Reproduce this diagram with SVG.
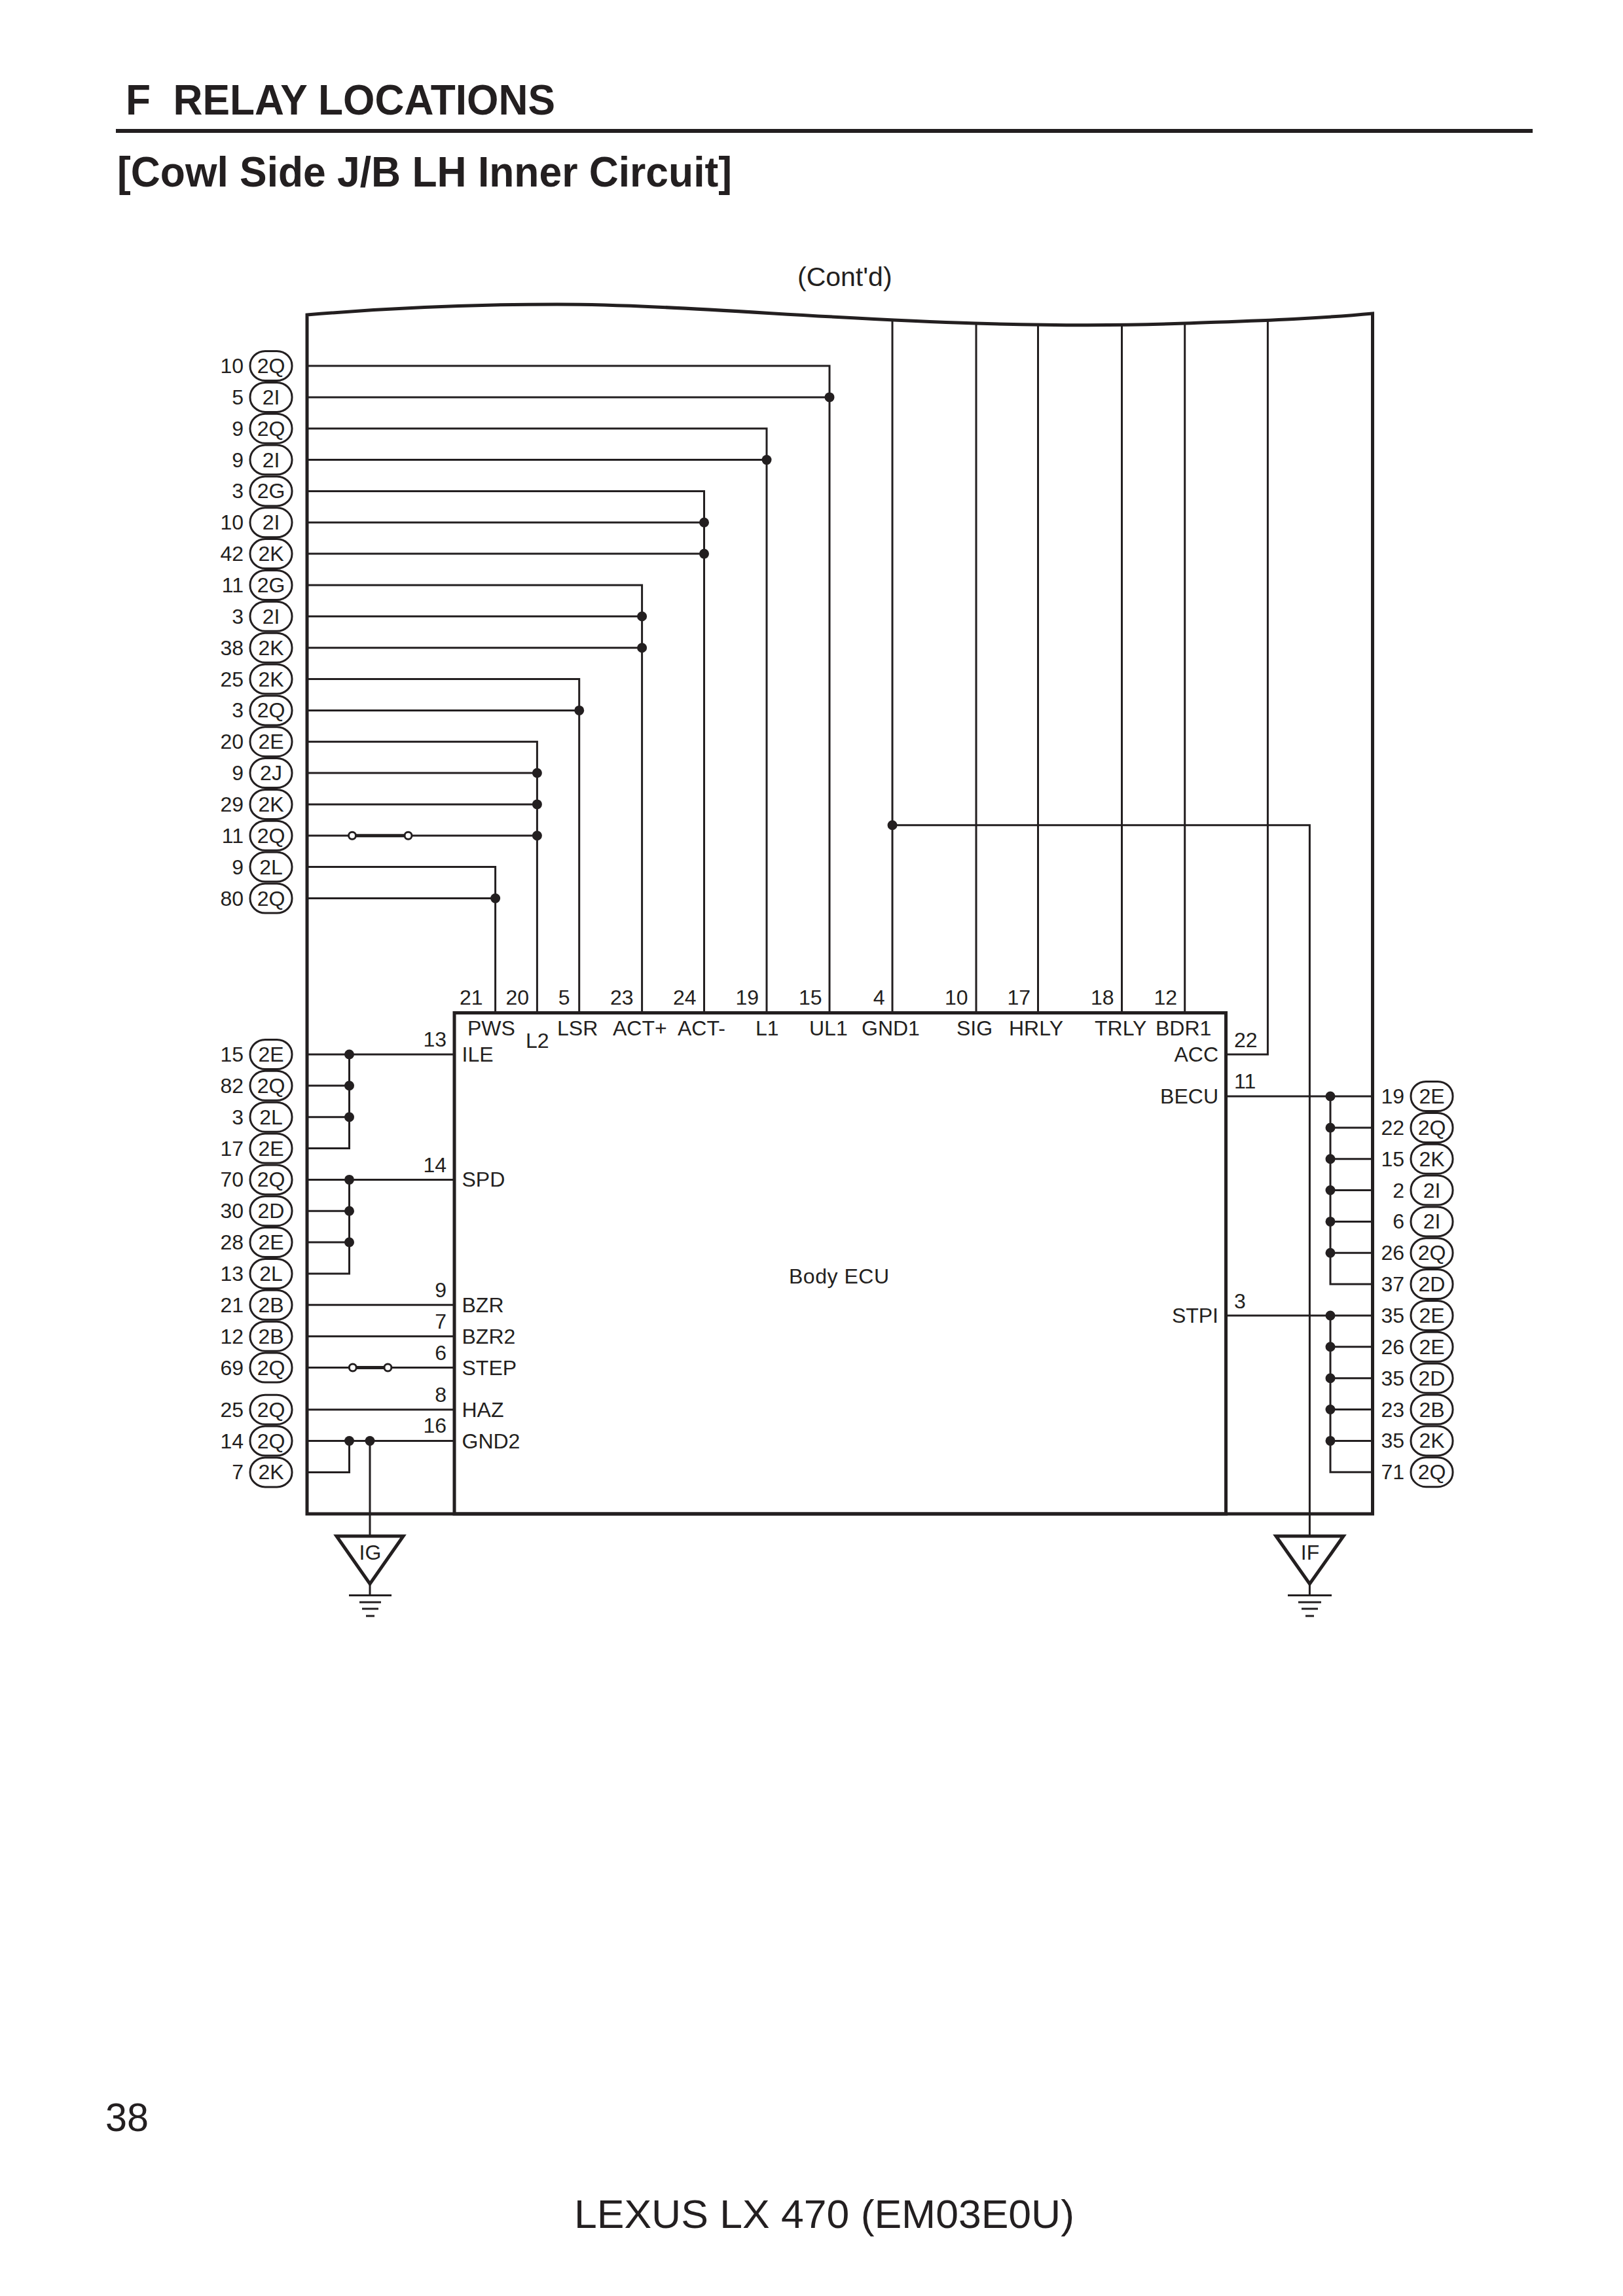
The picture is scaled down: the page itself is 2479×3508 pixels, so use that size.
<svg xmlns="http://www.w3.org/2000/svg" width="2479" height="3508" viewBox="0 0 2479 3508">
<style>
text{font-family:"Liberation Sans",Arial,sans-serif;fill:#231f20;font-size:32px}
.r{text-anchor:end}
.c{text-anchor:middle}
.w{fill:none;stroke:#231f20;stroke-width:3}
.f{fill:none;stroke:#231f20;stroke-width:5;stroke-linecap:square}
.pad{fill:#fff;stroke:#231f20;stroke-width:3}
.j{fill:#231f20}
.o{fill:#fff;stroke:#231f20;stroke-width:3}
.sw{fill:none;stroke:#231f20;stroke-width:5}
.h{font-weight:700;font-size:64px;white-space:pre}
</style>
<defs>
<rect id="pad" class="pad" x="-32" y="-22.5" width="64" height="45" rx="23" ry="22"/>
<circle id="j" class="j" r="7.5"/>
<circle id="o" class="o" r="5.5"/>
</defs>
<rect width="2479" height="3508" fill="#fff"/>
<g id="heading">
<text class="h" x="192" y="175" textLength="656" lengthAdjust="spacingAndGlyphs">F  RELAY LOCATIONS</text>
<rect x="177" y="197" width="2164" height="6" fill="#231f20"/>
<text class="h" x="179" y="285" textLength="939" lengthAdjust="spacingAndGlyphs">[Cowl Side J/B LH Inner Circuit]</text>
<text x="1218" y="437" style="font-size:41px">(Cont'd)</text>
</g>
<g id="connectors">
<path class="w" d="M469 559H1267V1547.5M469 606.9H1267"/>
<path class="w" d="M469 654.7H1171V1547.5M469 702.6H1171"/>
<path class="w" d="M469 750.4H1075.5V1547.5M469 798.3H1075.5M469 846.1H1075.5"/>
<path class="w" d="M469 894H980.6V1547.5M469 941.8H980.6M469 989.7H980.6"/>
<path class="w" d="M469 1037.5H884.7V1547.5M469 1085.4H884.7"/>
<path class="w" d="M469 1133.2H820.4V1547.5M469 1181H820.4M469 1228.9H820.4M469 1276.8H820.4"/>
<path class="w" d="M469 1324.6H756.6V1547.5M469 1372.5H756.6"/>
<path class="w" d="M1363 489V1547.5M1363 1260.7H2000.4V2346"/>
<path class="w" d="M1491 494V1547.5M1585.5 496V1547.5M1713.5 496V1547.5M1809.7 494V1547.5"/>
<path class="w" d="M1936.4 488V1611H1872.5"/>
<path class="w" d="M469 1611H694M533.5 1611V1754.5H469M469 1658.8H533.5M469 1706.7H533.5"/>
<path class="w" d="M469 1802.4H694M533.5 1802.4V1946H469M469 1850.2H533.5M469 1898H533.5"/>
<path class="w" d="M469 1993.8H694M469 2041.7H694M469 2089.5H694M469 2153.7H694"/>
<path class="w" d="M469 2201.5H694M533.5 2201.5V2249.4H469M565 2201.5V2346"/>
<path class="w" d="M1872.5 1675H2096.5M2032 1675V1962H2096.5M2032 1723H2096.5M2032 1770.7H2096.5M2032 1818.5H2096.5M2032 1866.4H2096.5M2032 1914.2H2096.5"/>
<path class="w" d="M1872.5 2010H2096.5M2032 2010V2249.2H2096.5M2032 2057.8H2096.5M2032 2105.7H2096.5M2032 2153.5H2096.5M2032 2201.4H2096.5"/>
<path class="sw" d="M538 1276.8H623.5M538.8 2089.5H592.4"/>
<use href="#o" x="538" y="1276.8"/><use href="#o" x="623.5" y="1276.8"/>
<use href="#o" x="538.8" y="2089.5"/><use href="#o" x="592.4" y="2089.5"/>
<use href="#j" x="1267" y="606.9"/><use href="#j" x="1171" y="702.6"/>
<use href="#j" x="1075.5" y="798.3"/><use href="#j" x="1075.5" y="846.1"/>
<use href="#j" x="980.6" y="941.8"/><use href="#j" x="980.6" y="989.7"/>
<use href="#j" x="884.7" y="1085.4"/>
<use href="#j" x="820.4" y="1181"/><use href="#j" x="820.4" y="1228.9"/><use href="#j" x="820.4" y="1276.8"/>
<use href="#j" x="756.6" y="1372.5"/>
<use href="#j" x="1363" y="1260.7"/>
<use href="#j" x="533.5" y="1611"/><use href="#j" x="533.5" y="1658.8"/><use href="#j" x="533.5" y="1706.7"/>
<use href="#j" x="533.5" y="1802.4"/><use href="#j" x="533.5" y="1850.2"/><use href="#j" x="533.5" y="1898"/>
<use href="#j" x="533.5" y="2201.5"/><use href="#j" x="565" y="2201.5"/>
<use href="#j" x="2032" y="1675"/><use href="#j" x="2032" y="1723"/><use href="#j" x="2032" y="1770.7"/><use href="#j" x="2032" y="1818.5"/><use href="#j" x="2032" y="1866.4"/><use href="#j" x="2032" y="1914.2"/>
<use href="#j" x="2032" y="2010"/><use href="#j" x="2032" y="2057.8"/><use href="#j" x="2032" y="2105.7"/><use href="#j" x="2032" y="2153.5"/><use href="#j" x="2032" y="2201.4"/>
</g>
<g id="junction-block">
<path class="f" d="M469 2313V481C600 470 720 465 851 465C1030 465 1250 487 1490 494C1590 497 1710 498 1810 494C1900 490.5 2000 488 2096.5 479V2313Z"/>
</g>
<g id="body-ecu">
<rect class="f" x="694" y="1547.5" width="1178.5" height="765.5"/>
<text x="1205" y="1960.5" textLength="153" lengthAdjust="spacing">Body ECU</text>
<text class="r" x="737.5" y="1535">21</text><text class="r" x="808" y="1535">20</text><text class="r" x="870.5" y="1535">5</text><text class="r" x="967.5" y="1535">23</text><text class="r" x="1063.5" y="1535">24</text><text class="r" x="1159" y="1535">19</text><text class="r" x="1255.5" y="1535">15</text><text class="r" x="1351.5" y="1535">4</text><text class="r" x="1478.5" y="1535">10</text><text class="r" x="1574" y="1535">17</text><text class="r" x="1701.5" y="1535">18</text><text class="r" x="1798" y="1535">12</text>
<text x="714" y="1582">PWS</text><text x="803" y="1601">L2</text><text x="851" y="1582">LSR</text><text x="936" y="1582">ACT+</text><text x="1035" y="1582">ACT-</text><text x="1154" y="1582">L1</text><text x="1236" y="1582">UL1</text><text x="1316" y="1582">GND1</text><text x="1461" y="1582">SIG</text><text x="1541" y="1582">HRLY</text><text x="1672" y="1582">TRLY</text><text x="1765" y="1582">BDR1</text>
<text x="705.5" y="1622">ILE</text><text x="705.5" y="1813">SPD</text><text x="705.5" y="2005">BZR</text><text x="705.5" y="2053">BZR2</text><text x="705.5" y="2101">STEP</text><text x="705.5" y="2165">HAZ</text><text x="705.5" y="2213">GND2</text>
<text class="r" x="682" y="1599">13</text><text class="r" x="682" y="1791">14</text><text class="r" x="682" y="1982">9</text><text class="r" x="682" y="2030">7</text><text class="r" x="682" y="2078">6</text><text class="r" x="682" y="2142">8</text><text class="r" x="682" y="2189">16</text>
<text class="r" x="1861" y="1622">ACC</text><text class="r" x="1861" y="1686">BECU</text><text class="r" x="1861" y="2021">STPI</text>
<text x="1885" y="1600">22</text><text x="1885" y="1663">11</text><text x="1885" y="1999">3</text>
</g>
<g id="ground-IG">
<path class="f" style="stroke-linejoin:miter" d="M514 2347H616L565 2420Z"/>
<path class="w" d="M565 2420V2437M533 2437.5H598M549 2448H582M553 2458H578M559 2469H572"/>
<text class="c" x="565.5" y="2383">IG</text>
</g>
<g id="ground-IF">
<path class="f" style="stroke-linejoin:miter" d="M1949 2347H2052L2000.4 2420Z"/>
<path class="w" d="M2000.4 2420V2437M1967 2437.5H2034M1983 2448H2018M1988 2458H2013M1994 2469H2007"/>
<text class="c" x="2001" y="2383">IF</text>
</g>
<g id="terminals-top-left">
<g id="tl01"><text class="r" x="372" y="570">10</text><use href="#pad" x="414" y="559"/><text class="c" x="414" y="570">2Q</text></g>
<g id="tl02"><text class="r" x="372" y="618">5</text><use href="#pad" x="414" y="606.9"/><text class="c" x="414" y="618">2I</text></g>
<g id="tl03"><text class="r" x="372" y="666">9</text><use href="#pad" x="414" y="654.7"/><text class="c" x="414" y="666">2Q</text></g>
<g id="tl04"><text class="r" x="372" y="714">9</text><use href="#pad" x="414" y="702.6"/><text class="c" x="414" y="714">2I</text></g>
<g id="tl05"><text class="r" x="372" y="761">3</text><use href="#pad" x="414" y="750.4"/><text class="c" x="414" y="761">2G</text></g>
<g id="tl06"><text class="r" x="372" y="809">10</text><use href="#pad" x="414" y="798.3"/><text class="c" x="414" y="809">2I</text></g>
<g id="tl07"><text class="r" x="372" y="857">42</text><use href="#pad" x="414" y="846.1"/><text class="c" x="414" y="857">2K</text></g>
<g id="tl08"><text class="r" x="372" y="905">11</text><use href="#pad" x="414" y="894"/><text class="c" x="414" y="905">2G</text></g>
<g id="tl09"><text class="r" x="372" y="953">3</text><use href="#pad" x="414" y="941.8"/><text class="c" x="414" y="953">2I</text></g>
<g id="tl10"><text class="r" x="372" y="1001">38</text><use href="#pad" x="414" y="989.7"/><text class="c" x="414" y="1001">2K</text></g>
<g id="tl11"><text class="r" x="372" y="1049">25</text><use href="#pad" x="414" y="1037.5"/><text class="c" x="414" y="1049">2K</text></g>
<g id="tl12"><text class="r" x="372" y="1096">3</text><use href="#pad" x="414" y="1085.4"/><text class="c" x="414" y="1096">2Q</text></g>
<g id="tl13"><text class="r" x="372" y="1144">20</text><use href="#pad" x="414" y="1133.2"/><text class="c" x="414" y="1144">2E</text></g>
<g id="tl14"><text class="r" x="372" y="1192">9</text><use href="#pad" x="414" y="1181"/><text class="c" x="414" y="1192">2J</text></g>
<g id="tl15"><text class="r" x="372" y="1240">29</text><use href="#pad" x="414" y="1228.9"/><text class="c" x="414" y="1240">2K</text></g>
<g id="tl16"><text class="r" x="372" y="1288">11</text><use href="#pad" x="414" y="1276.8"/><text class="c" x="414" y="1288">2Q</text></g>
<g id="tl17"><text class="r" x="372" y="1336">9</text><use href="#pad" x="414" y="1324.6"/><text class="c" x="414" y="1336">2L</text></g>
<g id="tl18"><text class="r" x="372" y="1384">80</text><use href="#pad" x="414" y="1372.5"/><text class="c" x="414" y="1384">2Q</text></g>
</g>
<g id="terminals-bottom-left">
<g id="bl01"><text class="r" x="372" y="1622">15</text><use href="#pad" x="414" y="1611"/><text class="c" x="414" y="1622">2E</text></g>
<g id="bl02"><text class="r" x="372" y="1670">82</text><use href="#pad" x="414" y="1658.8"/><text class="c" x="414" y="1670">2Q</text></g>
<g id="bl03"><text class="r" x="372" y="1718">3</text><use href="#pad" x="414" y="1706.7"/><text class="c" x="414" y="1718">2L</text></g>
<g id="bl04"><text class="r" x="372" y="1766">17</text><use href="#pad" x="414" y="1754.5"/><text class="c" x="414" y="1766">2E</text></g>
<g id="bl05"><text class="r" x="372" y="1813">70</text><use href="#pad" x="414" y="1802.4"/><text class="c" x="414" y="1813">2Q</text></g>
<g id="bl06"><text class="r" x="372" y="1861">30</text><use href="#pad" x="414" y="1850.2"/><text class="c" x="414" y="1861">2D</text></g>
<g id="bl07"><text class="r" x="372" y="1909">28</text><use href="#pad" x="414" y="1898"/><text class="c" x="414" y="1909">2E</text></g>
<g id="bl08"><text class="r" x="372" y="1957">13</text><use href="#pad" x="414" y="1946"/><text class="c" x="414" y="1957">2L</text></g>
<g id="bl09"><text class="r" x="372" y="2005">21</text><use href="#pad" x="414" y="1993.8"/><text class="c" x="414" y="2005">2B</text></g>
<g id="bl10"><text class="r" x="372" y="2053">12</text><use href="#pad" x="414" y="2041.7"/><text class="c" x="414" y="2053">2B</text></g>
<g id="bl11"><text class="r" x="372" y="2101">69</text><use href="#pad" x="414" y="2089.5"/><text class="c" x="414" y="2101">2Q</text></g>
<g id="bl12"><text class="r" x="372" y="2165">25</text><use href="#pad" x="414" y="2153.7"/><text class="c" x="414" y="2165">2Q</text></g>
<g id="bl13"><text class="r" x="372" y="2213">14</text><use href="#pad" x="414" y="2201.5"/><text class="c" x="414" y="2213">2Q</text></g>
<g id="bl14"><text class="r" x="372" y="2260">7</text><use href="#pad" x="414" y="2249.4"/><text class="c" x="414" y="2260">2K</text></g>
</g>
<g id="terminals-right">
<g id="r01"><text class="r" x="2145" y="1686">19</text><use href="#pad" x="2187" y="1675"/><text class="c" x="2187" y="1686">2E</text></g>
<g id="r02"><text class="r" x="2145" y="1734">22</text><use href="#pad" x="2187" y="1723"/><text class="c" x="2187" y="1734">2Q</text></g>
<g id="r03"><text class="r" x="2145" y="1782">15</text><use href="#pad" x="2187" y="1770.7"/><text class="c" x="2187" y="1782">2K</text></g>
<g id="r04"><text class="r" x="2145" y="1830">2</text><use href="#pad" x="2187" y="1818.5"/><text class="c" x="2187" y="1830">2I</text></g>
<g id="r05"><text class="r" x="2145" y="1877">6</text><use href="#pad" x="2187" y="1866.4"/><text class="c" x="2187" y="1877">2I</text></g>
<g id="r06"><text class="r" x="2145" y="1925">26</text><use href="#pad" x="2187" y="1914.2"/><text class="c" x="2187" y="1925">2Q</text></g>
<g id="r07"><text class="r" x="2145" y="1973">37</text><use href="#pad" x="2187" y="1962"/><text class="c" x="2187" y="1973">2D</text></g>
<g id="r08"><text class="r" x="2145" y="2021">35</text><use href="#pad" x="2187" y="2010"/><text class="c" x="2187" y="2021">2E</text></g>
<g id="r09"><text class="r" x="2145" y="2069">26</text><use href="#pad" x="2187" y="2057.8"/><text class="c" x="2187" y="2069">2E</text></g>
<g id="r10"><text class="r" x="2145" y="2117">35</text><use href="#pad" x="2187" y="2105.7"/><text class="c" x="2187" y="2117">2D</text></g>
<g id="r11"><text class="r" x="2145" y="2165">23</text><use href="#pad" x="2187" y="2153.5"/><text class="c" x="2187" y="2165">2B</text></g>
<g id="r12"><text class="r" x="2145" y="2212">35</text><use href="#pad" x="2187" y="2201.4"/><text class="c" x="2187" y="2212">2K</text></g>
<g id="r13"><text class="r" x="2145" y="2260">71</text><use href="#pad" x="2187" y="2249.2"/><text class="c" x="2187" y="2260">2Q</text></g>
</g>
<g id="footer">
<text x="161" y="3256" style="font-size:62px" textLength="66" lengthAdjust="spacingAndGlyphs">38</text>
<text x="877" y="3404" style="font-size:62px" textLength="764" lengthAdjust="spacingAndGlyphs">LEXUS LX 470 (EM03E0U)</text>
</g>
</svg>
